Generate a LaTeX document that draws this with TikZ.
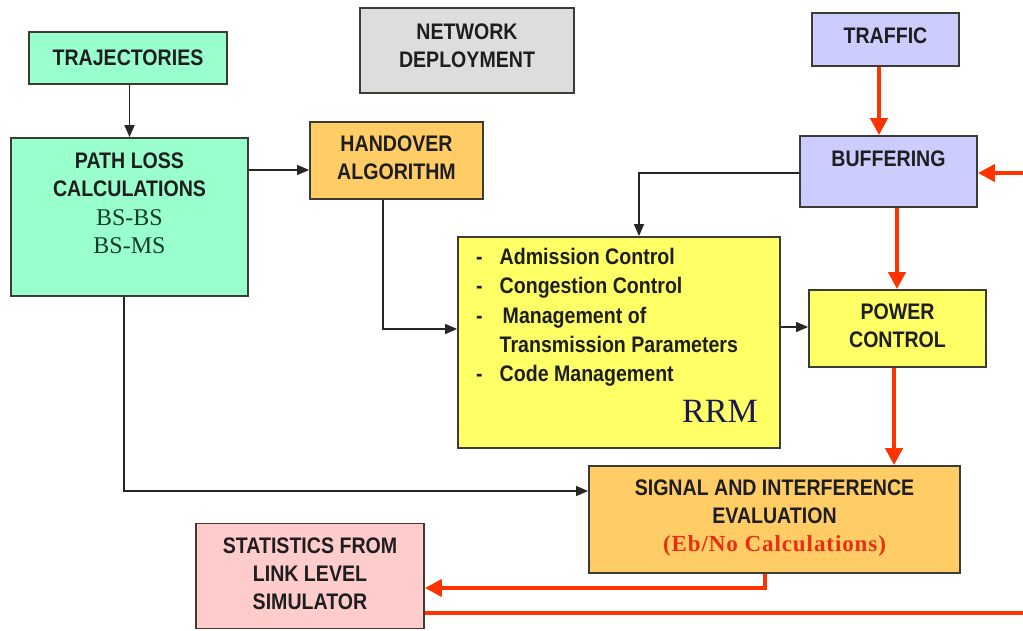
\documentclass[tikz,border=0pt]{standalone}
\usepackage{fontspec}
\setmainfont{Liberation Sans}[FakeStretch=0.87]
\newfontfamily\timesf{Liberation Serif}
\newfontfamily\timessp{Liberation Serif}[LetterSpace=4]
\usetikzlibrary{arrows.meta}
\definecolor{mint}{RGB}{153,255,204}
\definecolor{greybox}{RGB}{221,221,221}
\definecolor{orangebox}{RGB}{255,204,102}
\definecolor{lavender}{RGB}{204,204,255}
\definecolor{yellowbox}{RGB}{255,255,102}
\definecolor{pinkbox}{RGB}{255,204,204}
\definecolor{boxline}{RGB}{60,60,55}
\definecolor{txt}{RGB}{30,30,30}
\definecolor{redline}{RGB}{255,51,0}
\definecolor{redtxt}{RGB}{235,45,20}
\definecolor{greentxt}{RGB}{20,60,45}
\definecolor{navytxt}{RGB}{25,25,80}
\begin{document}
\begin{tikzpicture}[x=1pt,y=-1pt,
  box/.style={draw=boxline, line width=1.8pt, inner sep=0pt},
  lbl/.style={font=\fontsize{22.5}{28}\selectfont\bfseries, text=txt, align=center, inner sep=0pt},
  blackarrow/.style={draw=black!85, line width=1.4pt, -{Triangle[length=12pt,width=10pt]}},
  redarrow/.style={draw=redline, line width=4pt, -{Triangle[length=17pt,width=17pt]}},
  redlinestyle/.style={draw=redline, line width=4pt}]
\useasboundingbox (0,0) rectangle (1023,630);
\fill[white] (0,0) rectangle (1023,630);

% boxes
\node[box, fill=mint, minimum width=198pt, minimum height=52pt, lbl] (traj) at (128,58) {TRAJECTORIES};
\node[box, fill=mint, minimum width=237pt, minimum height=158pt] (path) at (129.5,217) {};
\node[lbl] (pathtxt) at (129.5,203) {PATH LOSS\\CALCULATIONS\\[1pt]{\timesf\mdseries\fontsize{24}{28}\selectfont\color{greentxt}BS-BS}\\{\timesf\mdseries\fontsize{24}{28}\selectfont\color{greentxt}BS-MS}};
\node[box, fill=greybox, minimum width=214pt, minimum height=85pt] (net) at (467,50.5) {};
\node[lbl] (nettxt) at (467,46) {NETWORK\\DEPLOYMENT};
\node[box, fill=orangebox, minimum width=173pt, minimum height=77pt] (hand) at (396.5,160.5) {};
\node[lbl] (handtxt) at (396.5,158) {HANDOVER\\ALGORITHM};
\node[box, fill=lavender, minimum width=147pt, minimum height=53pt] (traffic) at (885.5,39.5) {};
\node[lbl] (traffictxt) at (885.5,36) {TRAFFIC};
\node[box, fill=lavender, minimum width=177pt, minimum height=71pt] (buff) at (888.5,171.5) {};
\node[lbl] (bufftxt) at (888.5,159) {BUFFERING};
\node[box, fill=yellowbox, minimum width=322pt, minimum height=211pt] (rrm) at (619,342.5) {};
\node[lbl, anchor=north west, align=left, font=\fontsize{22.5}{29.2}\selectfont\bfseries] (rrmlist) at (476,244) {%
\begin{tabular}{@{}l@{\hspace{17pt}}l@{}}
- & Admission Control\\
- & Congestion Control\\
- & \hspace{3pt}Management of\\
  & Transmission Parameters\\
- & Code Management
\end{tabular}};
\node[inner sep=0pt, font=\timesf\fontsize{34}{34}\selectfont, text=navytxt] (rrmtxt) at (720,411) {RRM};
\node[box, fill=yellowbox, minimum width=177pt, minimum height=77pt] (power) at (897.5,328.5) {};
\node[lbl] (powertxt) at (897.5,326) {POWER\\CONTROL};
\node[box, fill=orangebox, minimum width=371pt, minimum height=107pt] (sig) at (774.5,519.5) {};
\node[lbl] (sigtxt) at (774.5,518) {SIGNAL AND INTERFERENCE\\EVALUATION\\{\timessp\fontsize{23}{28}\selectfont\color{redtxt}(Eb/No Calculations)}};
\node[box, fill=pinkbox, minimum width=228pt, minimum height=105pt] (stat) at (310,576) {};
\node[lbl] (stattxt) at (310,574) {STATISTICS FROM\\LINK LEVEL\\SIMULATOR};

% black connectors
\draw[blackarrow] (traj.south -| 129.5,0) -- (path.north -| 129.5,0);
\draw[blackarrow] (path.east |- 0,170) -- (hand.west |- 0,170);
\draw[blackarrow] (hand.south -| 383,0) |- (rrm.west |- 0,329);
\draw[blackarrow] (buff.west |- 0,173) -| (rrm.north -| 639,0);
\draw[blackarrow] (rrm.east |- 0,327) -- (power.west |- 0,327);
\draw[blackarrow] (path.south -| 124,0) |- (sig.west |- 0,491);

% red connectors
\coordinate (edgeA) at (1023,613);
\coordinate (edgeB) at (1023,173);
\draw[redarrow] (traffic.south -| 879,0) -- (buff.north -| 879,0);
\draw[redarrow] (buff.south -| 897,0) -- (power.north -| 897,0);
\draw[redarrow] (power.south -| 894,0) -- (sig.north -| 894,0);
\draw[redarrow] (sig.south -| 765,0) |- (stat.east |- 0,588);
\draw[redlinestyle] (stat.east |- 0,613) -- (edgeA);
\draw[redarrow] (edgeB) -- (buff.east |- 0,173);
\end{tikzpicture}
\end{document}
